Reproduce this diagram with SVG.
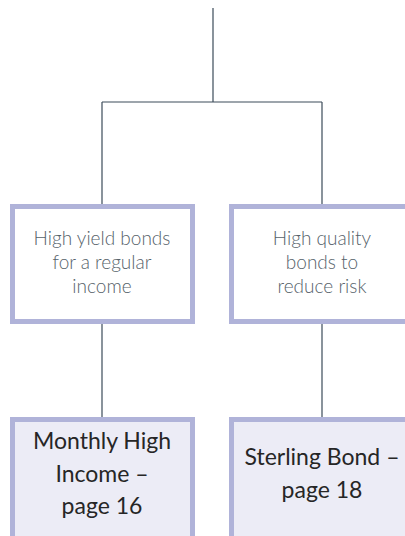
<svg xmlns="http://www.w3.org/2000/svg" width="405" height="536" viewBox="0 0 405 536">
<style>
.box{fill:#ffffff;stroke:#b0b3d9;stroke-width:5}
.box2{fill:#ececf6;stroke:#b0b3d9;stroke-width:5}
.conn{stroke:#3d4c5a;stroke-width:1.2;fill:none}
.t1{font-family:Lato,"Open Sans",sans-serif;font-weight:300;font-size:19px;fill:#56626a;text-anchor:middle}
.t2{font-family:Lato,"Open Sans",sans-serif;font-weight:400;font-size:23px;fill:#262626;text-anchor:middle}
</style>
<rect width="405" height="536" fill="#ffffff"/>
<g id="connectors">
<path class="conn" d="M213 8V102M102 102H322M102 102V206M322 102V206M102 322V419M322 322V419"/>
</g>
<g id="n1">
<rect class="box" x="12.5" y="206.5" width="180" height="115"/>
<text class="t1" x="102" y="245">High yield bonds</text>
<text class="t1" x="102" y="269">for a regular</text>
<text class="t1" x="102" y="293">income</text>
</g>
<g id="n2">
<rect class="box" x="231.5" y="206.5" width="182" height="115"/>
<text class="t1" x="322" y="245">High quality</text>
<text class="t1" x="322" y="269">bonds to</text>
<text class="t1" x="322" y="293">reduce risk</text>
</g>
<g id="n3">
<rect class="box2" x="12.5" y="419.5" width="180" height="120"/>
<text class="t2" x="102" y="449">Monthly High</text>
<text class="t2" x="102" y="482">Income –</text>
<text class="t2" x="102" y="514">page 16</text>
</g>
<g id="n4">
<rect class="box2" x="231.5" y="419.5" width="182" height="120"/>
<text class="t2" x="322" y="465">Sterling Bond –</text>
<text class="t2" x="322" y="498">page 18</text>
</g>
</svg>
